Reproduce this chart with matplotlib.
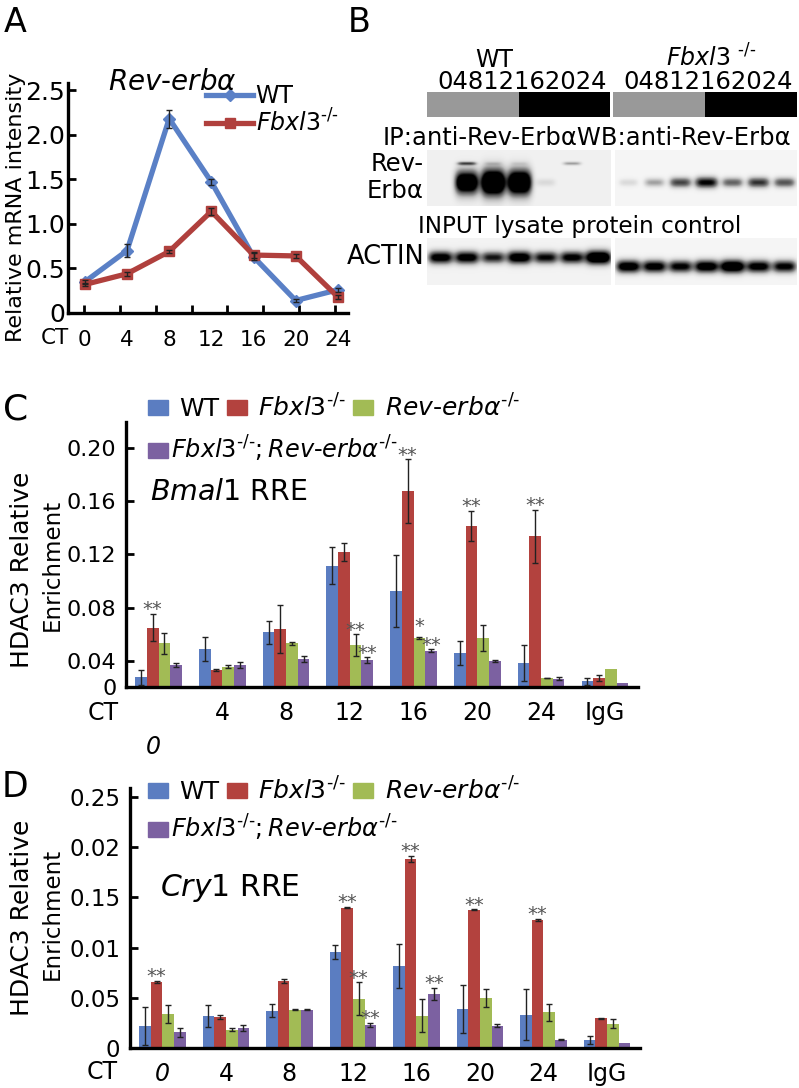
import numpy as np
import matplotlib
matplotlib.use('Agg')
import matplotlib.pyplot as plt
from matplotlib.patches import Rectangle, Patch
from matplotlib.lines import Line2D

plt.rcParams['font.family'] = ['DejaVu Sans']
plt.rcParams['mathtext.fontset'] = 'dejavusans'

W, H = 799, 1088

# ---------------- Panel A data ----------------
ct_a = ['0', '4', '8', '12', '16', '20', '24']
wt_a = [0.35, 0.70, 2.18, 1.47, 0.63, 0.14, 0.26]
wt_a_err = [0.02, 0.07, 0.10, 0.03, 0.04, 0.02, 0.02]
fb_a = [0.32, 0.44, 0.69, 1.14, 0.65, 0.64, 0.18]
fb_a_err = [0.02, 0.02, 0.02, 0.04, 0.03, 0.02, 0.02]

# ---------------- Panel B data (band intensities per lane) ----------------
blot_lanes = ['0', '4', '8', '12', '16', '20', '24']
wt_ip_main = [0.0, 0.85, 1.0, 0.95, 0.08, 0.0, 0.0]
wt_ip_upper = [0.0, 0.6, 0.12, 0.08, 0.0, 0.35, 0.0]
fb_ip_main = [0.15, 0.35, 0.65, 0.85, 0.55, 0.70, 0.60]
wt_actin = [0.80, 0.80, 0.65, 0.85, 0.70, 0.75, 1.0]
fb_actin = [0.85, 0.80, 0.75, 0.85, 0.95, 0.80, 0.75]

# ---------------- Panel C / D data ----------------
groups = ['0', '4', '8', '12', '16', '20', '24', 'IgG']
c_wt = [0.0275, 0.0486, 0.0614, 0.1116, 0.0925, 0.0460, 0.0383, 0.0245]
c_wt_err = [0.0055, 0.009, 0.0086, 0.014, 0.027, 0.009, 0.0136, 0.0027]
c_fb = [0.0649, 0.0330, 0.0637, 0.1217, 0.1676, 0.1415, 0.1335, 0.0270]
c_fb_err = [0.0103, 0.0005, 0.018, 0.0068, 0.024, 0.0115, 0.0198, 0.0023]
c_rev = [0.0531, 0.0355, 0.0531, 0.0518, 0.0569, 0.0570, 0.0270, 0.0337]
c_rev_err = [0.0077, 0.001, 0.001, 0.008, 0.0008, 0.010, 0.0003, 0.0]
c_dko = [0.0368, 0.0368, 0.0413, 0.0405, 0.0475, 0.0398, 0.0265, 0.0230]
c_dko_err = [0.0015, 0.002, 0.002, 0.002, 0.001, 0.0005, 0.001, 0.0]
c_stars = [(0, 1, '**'), (3, 2, '**'), (3, 3, '**'), (4, 1, '**'), (4, 2, '*'),
           (4, 3, '**'), (5, 1, '**'), (6, 1, '**')]

d_wt = [0.0222, 0.0321, 0.0371, 0.0955, 0.0819, 0.0388, 0.0331, 0.0083]
d_wt_err = [0.019, 0.0107, 0.0066, 0.0073, 0.022, 0.0242, 0.0256, 0.004]
d_fb = [0.0657, 0.0308, 0.0663, 0.1399, 0.1884, 0.1376, 0.1277, 0.0295]
d_fb_err = [0.001, 0.002, 0.002, 0.0005, 0.003, 0.0005, 0.001, 0.0005]
d_rev = [0.0341, 0.0182, 0.0381, 0.0490, 0.0321, 0.0497, 0.0354, 0.0242]
d_rev_err = [0.009, 0.0013, 0.0005, 0.0163, 0.0166, 0.009, 0.0083, 0.0047]
d_dko = [0.0156, 0.0199, 0.0381, 0.0229, 0.0537, 0.0222, 0.0083, 0.0050]
d_dko_err = [0.0043, 0.0027, 0.0007, 0.002, 0.006, 0.0013, 0.0005, 0.0]
d_stars = [(0, 1, '**'), (3, 1, '**'), (3, 2, '**'), (3, 3, '**'), (4, 1, '**'),
           (4, 3, '**'), (5, 1, '**'), (6, 1, '**')]

c_yticks = [0.0202, 0.04, 0.08, 0.12, 0.16, 0.20]
c_yticklabels = ['0', '0.04', '0.08', '0.12', '0.16', '0.20']
d_yticks = [0, 0.05, 0.10, 0.15, 0.20, 0.25]
d_yticklabels = ['0', '0.05', '0.01', '0.15', '0.02', '0.25']

BLUE, RED, GREEN, PURPLE = '#5B7DC1', '#B3423E', '#A2BB55', '#7C61A1'
LBLUE, LRED = '#5A80C6', '#B0403D'

KO = '‐/‐'  # hyphen-based knockout superscript
lab_wt = 'WT'
lab_fb = r'$\mathit{Fbxl3}^{' + KO + '}$'
lab_rev = r'$\mathit{Rev}$-$\mathit{erb}\alpha^{' + KO + '}$'
lab_dko = r'$\mathit{Fbxl3}^{' + KO + r'}\mathit{;Rev}$-$\mathit{erb}\alpha^{' + KO + '}$'

fig = plt.figure(figsize=(W / 100, H / 100), dpi=100)


def add_ax(l, t, r, b):
    return fig.add_axes([l / W, 1 - b / H, (r - l) / W, (b - t) / H])


def ft(x, y, s, **kw):
    kw.setdefault('ha', 'center')
    kw.setdefault('va', 'center')
    return fig.text(x / W, 1 - y / H, s, **kw)


# ================= Panel A =================
axA = add_ax(68, 83, 348, 313)
xa = np.arange(len(ct_a))
axA.errorbar(xa, wt_a, yerr=wt_a_err, fmt='none', ecolor='#222222', elinewidth=1,
             capsize=2.5, zorder=3)
axA.errorbar(xa, fb_a, yerr=fb_a_err, fmt='none', ecolor='#222222', elinewidth=1,
             capsize=2.5, zorder=3)
axA.plot(xa, wt_a, color=LBLUE, lw=3.8, marker='D', ms=6.5, zorder=2)
axA.plot(xa, fb_a, color=LRED, lw=3.8, marker='s', ms=7, zorder=2)
axA.set_xlim(-0.40, 6.24)
axA.set_ylim(0, 2.58)
axA.set_yticks([0, 0.5, 1.0, 1.5, 2.0, 2.5])
axA.set_yticklabels(['0', '0.5', '1.0', '1.5', '2.0', '2.5'], fontsize=18)
axA.set_xticks(np.linspace(-0.02, 5.93, 8))
axA.set_xticklabels([])
axA.set_xticks(xa, minor=True)
axA.set_xticklabels(ct_a, minor=True, fontsize=15.5)
axA.tick_params(axis='x', which='minor', length=0, pad=12)
axA.tick_params(axis='both', which='major', direction='in', length=6, width=2)
axA.tick_params(axis='y', pad=2)
for s in ['top', 'right']:
    axA.spines[s].set_visible(False)
for s in ['left', 'bottom']:
    axA.spines[s].set_linewidth(2.4)
axA.set_ylabel('Relative mRNA intensity', fontsize=16)
axA.yaxis.set_label_coords(-0.15, 0.46)
hA = [Line2D([], [], color=LBLUE, lw=3.8, marker='D', ms=6.5),
      Line2D([], [], color=LRED, lw=3.8, marker='s', ms=7)]
axA.legend(hA, [lab_wt, lab_fb], loc='upper left', frameon=False, fontsize=17,
           bbox_to_anchor=(206 / W, 1 - 84 / H), bbox_transform=fig.transFigure,
           handlelength=2.0, handletextpad=0.1, labelspacing=0.05, borderpad=0,
           borderaxespad=0)
ft(172, 82, r'$\mathit{Rev}$-$\mathit{erb}\alpha$', fontsize=20)
ft(55, 338, 'CT', fontsize=15.5)
ft(15, 22, 'A', fontsize=24)

# ================= Panel B =================
axB = add_ax(340, 0, 799, 300)
axB.set_xlim(340, 799)
axB.set_ylim(300, 0)
axB.axis('off')


def blot(ax, x0, x1, y0, y1, bands, bg):
    """bands: list of (intensities, band_y, base_sy, extra_sy, gain, lane_frac)"""
    w = int(x1 - x0)
    h = int(y1 - y0)
    yy, xx = np.mgrid[0:h, 0:w]
    img = np.full((h, w), bg, dtype=float)
    for ints, band_y, base_sy, extra_sy, gain, lane_frac in bands:
        lw = w / len(ints)
        for i, v in enumerate(ints):
            if v <= 0:
                continue
            xc = (i + 0.5) * lw
            sy = base_sy + extra_sy * v
            sx = lane_frac * lw * (0.85 + 0.25 * v)
            img += gain * v * np.exp(-((xx - xc) / sx) ** 4) * np.exp(-((yy - band_y) / sy) ** 2)
    ax.imshow(np.clip(img, 0, 1), cmap='Greys', vmin=0, vmax=1, extent=(x0, x1, y1, y0),
              interpolation='bilinear', aspect='auto', zorder=1)


blot(axB, 427, 610, 150, 206, [(wt_ip_main, 32, 3, 10, 1.6, 0.42),
                               (wt_ip_upper, 13, 1.8, 0.0, 1.0, 0.36)], 0.12)
blot(axB, 615, 797, 150, 206, [(fb_ip_main, 32, 3.5, 2.5, 1.1, 0.42)], 0.08)
blot(axB, 427, 610, 238, 285, [(wt_actin, 19, 4, 3, 1.3, 0.45)], 0.10)
blot(axB, 615, 797, 238, 285, [(fb_actin, 28, 4, 3, 1.3, 0.45)], 0.08)

# light/dark bars
for x0, x1 in [(427, 610), (613, 797)]:
    mid = (x0 + x1) / 2
    axB.add_patch(Rectangle((x0, 92), mid - x0, 25, color='#999999', lw=0))
    axB.add_patch(Rectangle((mid, 92), x1 - mid, 25, color='black', lw=0))

axB.text(348, 22, 'B', fontsize=24, ha='left', va='center')
axB.text(494, 60, 'WT', fontsize=17, ha='center', va='center')
axB.text(711, 58, r'$\mathit{Fbxl3}$ $^{' + KO + '}$', fontsize=17, ha='center', va='center')
axB.text(522, 82, ''.join(blot_lanes), fontsize=17.5, ha='center', va='center')
axB.text(708, 82, ''.join(blot_lanes), fontsize=17.5, ha='center', va='center')
axB.text(587, 138, 'IP:anti-Rev-ErbαWB:anti-Rev-Erbα', fontsize=17.5, ha='center', va='center')
axB.text(424, 164, 'Rev-', fontsize=17.5, ha='right', va='center')
axB.text(424, 191, 'Erbα', fontsize=17.5, ha='right', va='center')
axB.text(580, 227, 'INPUT lysate protein control', fontsize=16.7, ha='center', va='center')
axB.text(425, 257, 'ACTIN', fontsize=18.5, ha='right', va='center')


# ================= Panels C, D =================
def bar_panel(ax, series, errs, stars, ylim, yticks, yticklabels, ytfs, xtfs):
    x = np.arange(len(groups))
    w = 0.183
    colors = [BLUE, RED, GREEN, PURPLE]
    for k, (vals, e, c) in enumerate(zip(series, errs, colors)):
        xs = x + (k - 1.5) * w
        ax.bar(xs, vals, width=w, color=c, edgecolor='none', zorder=2)
        e = np.asarray(e)
        m = e > 0
        ax.errorbar(xs[m], np.asarray(vals)[m], yerr=e[m], fmt='none', ecolor='#222222',
                    elinewidth=1.0, capsize=2.5, capthick=1.0, zorder=3)
    for g, k, s in stars:
        xs = g + (k - 1.5) * w
        dy = 8 if s == '*' else 3
        ax.annotate(s, (xs, series[k][g] + errs[k][g]), xytext=(0, dy),
                    textcoords='offset points', ha='center', va='center',
                    fontsize=14, color='#555555', zorder=4)
    ax.set_xlim(-0.51, 7.52)
    ax.set_ylim(*ylim)
    ax.set_yticks(yticks)
    ax.set_yticklabels(yticklabels, fontsize=ytfs)
    for s in ['top', 'right']:
        ax.spines[s].set_visible(False)
    for s in ['left', 'bottom']:
        ax.spines[s].set_linewidth(2.4)
    ax.tick_params(axis='y', direction='in', length=6, width=2, pad=7)
    ax.tick_params(axis='x', length=0, pad=10, labelsize=xtfs)


def bar_legend(ax, x, y1, y2, fs):
    h1 = [Patch(color=BLUE), Patch(color=RED), Patch(color=GREEN)]
    leg1 = ax.legend(h1, [lab_wt, lab_fb, lab_rev], loc='upper left', ncol=3,
                     frameon=False, fontsize=fs, bbox_to_anchor=(x / W, 1 - y1 / H),
                     bbox_transform=fig.transFigure, handlelength=0.8, handleheight=0.55,
                     handletextpad=0.45, columnspacing=0.3, borderpad=0, borderaxespad=0)
    ax.add_artist(leg1)
    ax.legend([Patch(color=PURPLE)], [lab_dko], loc='upper left', frameon=False,
              fontsize=fs - 0.7, bbox_to_anchor=(x / W, 1 - y2 / H),
              bbox_transform=fig.transFigure, handlelength=0.85, handleheight=0.58,
              handletextpad=0.1, borderpad=0, borderaxespad=0)


# Panel C
axC = add_ax(126, 422, 638, 687)
bar_panel(axC, [c_wt, c_fb, c_rev, c_dko], [c_wt_err, c_fb_err, c_rev_err, c_dko_err],
          c_stars, (0.0202, 0.2196), c_yticks, c_yticklabels, 16, 17)
axC.set_xticks(np.arange(1, len(groups)))
axC.set_xticklabels(groups[1:])
bar_legend(axC, 148, 394, 434, 18)
ft(150, 492, r'$\mathit{Bmal1}$ RRE', fontsize=20.5, ha='left')
ft(103, 713, 'CT', fontsize=17)
ft(153, 747, groups[0], fontsize=17, style='italic')
ft(22, 570, 'HDAC3 Relative', fontsize=18, rotation=90)
ft(52, 565, 'Enrichment', fontsize=16.5, rotation=90)
ft(16, 409, 'C', fontsize=26)

# Panel D
axD = add_ax(130, 788, 640, 1048)
bar_panel(axD, [d_wt, d_fb, d_rev, d_dko], [d_wt_err, d_fb_err, d_rev_err, d_dko_err],
          d_stars, (0, 0.259), d_yticks, d_yticklabels, 16.5, 17)
axD.set_xticks(np.arange(len(groups)))
axD.set_xticklabels(groups)
axD.get_xticklabels()[0].set_style('italic')
bar_legend(axD, 148, 777, 813, 18)
ft(160, 888, r'$\mathit{Cry1}$ RRE', fontsize=21.5, ha='left')
ft(102, 1072, 'CT', fontsize=17)
ft(22, 918, 'HDAC3 Relative', fontsize=18, rotation=90)
ft(52, 914, 'Enrichment', fontsize=16.5, rotation=90)
ft(15, 787, 'D', fontsize=25)

fig.savefig('out.png', dpi=100)
